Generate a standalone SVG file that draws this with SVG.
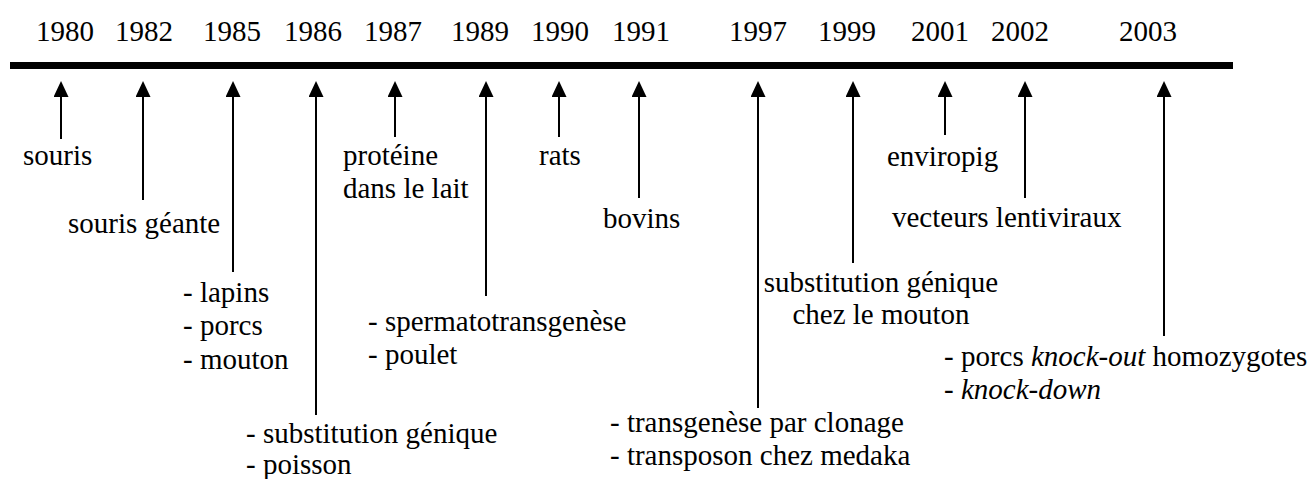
<svg xmlns="http://www.w3.org/2000/svg" width="1314" height="479" viewBox="0 0 1314 479">
<style>
text{font-size:29px;fill:#000}
.c{text-anchor:middle}
.stem{stroke:#000;stroke-width:2;fill:none}
</style>
<defs>
<marker id="ah" markerUnits="userSpaceOnUse" markerWidth="16" markerHeight="15" refX="0" refY="7.5" orient="auto" viewBox="0 0 16 15">
<path d="M0,0 L16,7.5 L0,15 z" fill="#000"/>
</marker>
</defs>
<rect width="1314" height="479" fill="#fff"/>
<g font-family="'Liberation Serif', 'Times New Roman', 'DejaVu Serif', serif">
<g id="timeline">
<rect x="10" y="62" width="1223" height="7" fill="#000"/>
</g>
<g id="years">
<text x="36" y="41">1980</text>
<text x="115" y="41">1982</text>
<text x="203" y="41">1985</text>
<text x="284" y="41">1986</text>
<text x="364" y="41">1987</text>
<text x="451" y="41">1989</text>
<text x="531" y="41">1990</text>
<text x="612" y="41">1991</text>
<text x="729" y="41">1997</text>
<text x="818" y="41">1999</text>
<text x="911" y="41">2001</text>
<text x="991" y="41">2002</text>
<text x="1119" y="41">2003</text>
</g>
<g id="connectors">
<line class="stem" x1="61" y1="139" x2="61" y2="97" marker-end="url(#ah)"/>
<line class="stem" x1="143" y1="200" x2="143" y2="97" marker-end="url(#ah)"/>
<line class="stem" x1="233" y1="272" x2="233" y2="97" marker-end="url(#ah)"/>
<line class="stem" x1="316" y1="415" x2="316" y2="97" marker-end="url(#ah)"/>
<line class="stem" x1="395" y1="137" x2="395" y2="97" marker-end="url(#ah)"/>
<line class="stem" x1="486" y1="296" x2="486" y2="97" marker-end="url(#ah)"/>
<line class="stem" x1="559" y1="137" x2="559" y2="97" marker-end="url(#ah)"/>
<line class="stem" x1="639" y1="198" x2="639" y2="97" marker-end="url(#ah)"/>
<line class="stem" x1="758" y1="408" x2="758" y2="97" marker-end="url(#ah)"/>
<line class="stem" x1="853" y1="263" x2="853" y2="97" marker-end="url(#ah)"/>
<line class="stem" x1="945" y1="135" x2="945" y2="97" marker-end="url(#ah)"/>
<line class="stem" x1="1025" y1="198" x2="1025" y2="97" marker-end="url(#ah)"/>
<line class="stem" x1="1164" y1="336" x2="1164" y2="97" marker-end="url(#ah)"/>
</g>
<g id="n1980"><text x="23" y="165">souris</text></g>
<g id="n1982"><text x="68" y="233">souris géante</text></g>
<g id="n1985"><text x="183" y="302">- lapins</text><text x="183" y="335">- porcs</text><text x="183" y="369">- mouton</text></g>
<g id="n1986"><text x="246" y="443">- substitution génique</text><text x="246" y="474">- poisson</text></g>
<g id="n1987"><text x="343" y="165">protéine</text><text x="343" y="198">dans le lait</text></g>
<g id="n1989"><text x="368" y="331">- spermatotransgenèse</text><text x="368" y="364">- poulet</text></g>
<g id="n1990"><text x="539" y="165">rats</text></g>
<g id="n1991"><text x="603" y="228">bovins</text></g>
<g id="n1997"><text x="610" y="432">- transgenèse par clonage</text><text x="610" y="465">- transposon chez medaka</text></g>
<g id="n1999"><text class="c" x="881" y="292">substitution génique</text><text class="c" x="881" y="324">chez le mouton</text></g>
<g id="n2001"><text x="887" y="166">enviropig</text></g>
<g id="n2002"><text x="892" y="227">vecteurs lentiviraux</text></g>
<g id="n2003"><text x="944" y="366">- porcs <tspan font-style="italic">knock-out</tspan> homozygotes</text><text x="944" y="399">- <tspan font-style="italic">knock-down</tspan></text></g>
</g>
</svg>
